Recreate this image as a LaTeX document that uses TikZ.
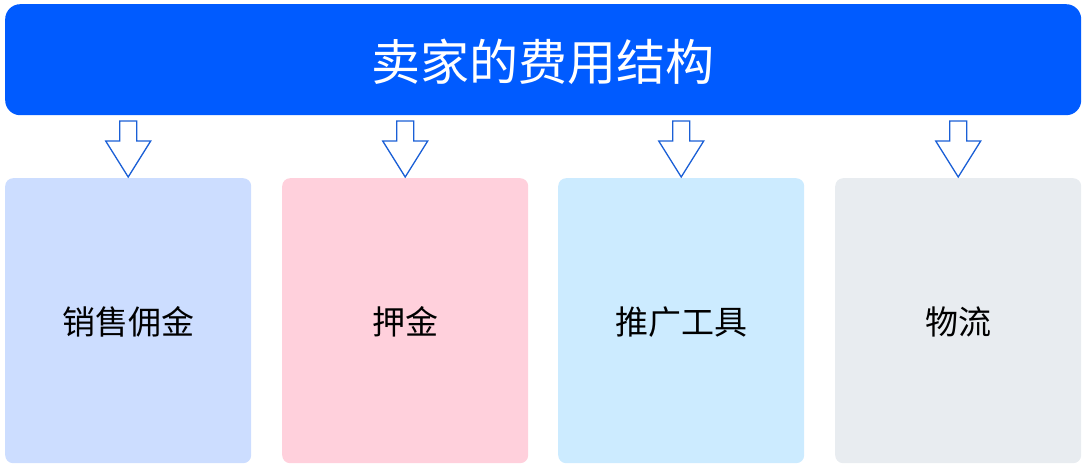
\documentclass[tikz,border=0pt]{standalone}
\usepackage{fontspec}
\newfontfamily\cjk{Noto Sans CJK SC}
\definecolor{topblue}{HTML}{005BFF}
\definecolor{arrowblue}{HTML}{1A5FD6}
\definecolor{cA}{HTML}{CCDDFF}
\definecolor{cB}{HTML}{FFD0DC}
\definecolor{cC}{HTML}{CCEBFF}
\definecolor{cD}{HTML}{E8ECF0}
\begin{document}
\begin{tikzpicture}[x=1pt,y=-1pt,
  catbox/.style={rounded corners=8pt,minimum width=246pt,minimum height=285pt,inner sep=0pt,anchor=north west,
    font=\cjk\fontsize{33}{36}\selectfont,text=black,text depth=0pt},
  downarrow/.style={draw=arrowblue,line width=1.3pt,fill=white,line join=miter}]
\useasboundingbox (0,0) rectangle (1087,466);
\node[fill=topblue,rounded corners=15pt,minimum width=1076pt,minimum height=111pt,inner sep=0pt,anchor=north west,
  font=\cjk\fontsize{49}{52}\selectfont,text=white,text depth=0pt] (top) at (5,4) {卖家的费用结构};
\node[catbox,fill=cA] (b1) at (5,178) {销售佣金};
\node[catbox,fill=cB] (b2) at (282,178) {押金};
\node[catbox,fill=cC] (b3) at (558,178) {推广工具};
\node[catbox,fill=cD] (b4) at (835,178) {物流};
\foreach \n in {b1,b2,b3,b4}{
  \path (\n.north) ++(0,-1) coordinate (\n tip);
  \draw[downarrow] (\n tip) -- ++(-22.5,-36) -- ++(14,0) -- ++(0,-20) -- ++(17,0) -- ++(0,20) -- ++(14,0) -- cycle;
}
\end{tikzpicture}
\end{document}
